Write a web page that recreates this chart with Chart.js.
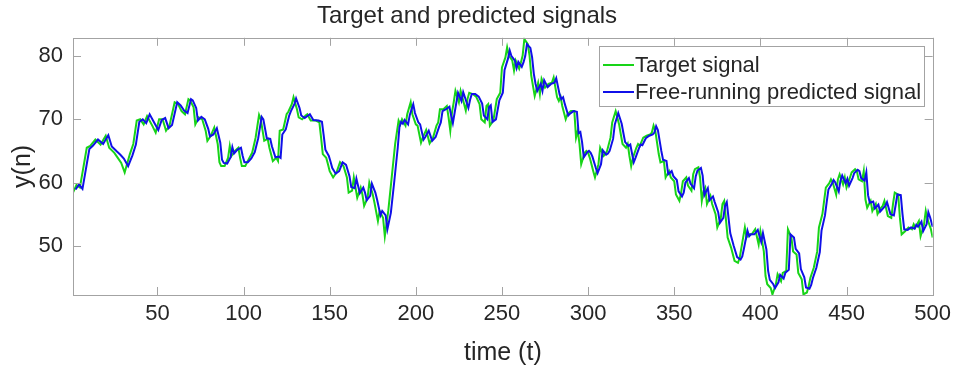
<!DOCTYPE html>
<html>
<head>
<meta charset="utf-8">
<title>Target and predicted signals</title>
<script src="https://cdn.jsdelivr.net/npm/chart.js@4.4.1/dist/chart.umd.min.js"></script>
<style>
  html, body { margin: 0; padding: 0; background: #fff; }
</style>
</head>
<body>
<canvas id="signals" width="957" height="372"></canvas>
<script>
// time steps and values of the target signal
const tTarget = [1, 3, 5, 9, 11, 14, 17, 20, 22, 25, 27, 29, 31, 34, 36, 38, 40, 42, 44, 47, 49, 51, 53, 55, 57, 60, 62, 64, 66, 68, 69, 71, 72, 74, 76, 78, 79, 81, 83, 85, 86, 87, 89, 91, 92, 93, 95, 97, 98, 99,
  101, 103, 105, 107, 109, 110, 112, 114, 115, 117, 119, 120, 121, 123, 125, 126, 128, 129, 131, 132, 134, 136, 137, 139, 142, 144, 145, 146, 148, 149, 150, 152, 154, 156, 158, 160, 161, 163, 164, 166, 168, 169, 170, 172, 173, 175, 176, 178, 179, 181, 182, 184, 186, 188, 190, 191, 192, 194, 195, 197, 198,
  200, 201, 203, 204, 206, 208, 210, 212, 213, 214, 216, 218, 219, 220, 221, 222, 223, 225, 226, 227, 229, 230, 231, 233, 235, 237, 238, 240, 241, 242, 243, 245, 247, 249, 250, 252, 253, 254, 256, 257, 258, 260, 261, 262, 263, 265, 266, 267, 268, 269, 271, 272, 273, 275, 277, 279, 280, 282, 283, 284, 285, 287, 288, 290, 292, 293, 294, 295, 296, 298, 299,
  300, 301, 303, 304, 306, 307, 309, 310, 311, 313, 314, 316, 318, 319, 320, 322, 323, 324, 325, 326, 328, 329, 330, 332, 334, 336, 337, 338, 339, 341, 342, 344, 345, 347, 348, 350, 351, 353, 354, 355, 357, 358, 360, 361, 362, 364, 365, 366, 367, 368, 369, 371, 372, 374, 375, 377, 378, 379, 381, 383, 385, 387, 388, 389, 391, 392, 393, 395, 397, 399,
  400, 402, 403, 404, 406, 407, 409, 410, 412, 413, 415, 416, 418, 419, 421, 422, 424, 425, 427, 428, 429, 431, 433, 434, 436, 437, 438, 440, 441, 442, 444, 445, 446, 448, 449, 450, 452, 453, 455, 456, 457, 459, 460, 461, 462, 464, 465, 467, 468, 470, 471, 472, 474, 476, 477, 478, 480, 481, 482, 484, 486, 488, 489, 490, 492, 493, 495, 496, 497, 499, 500];
const yTarget = [58.4, 59.6, 59.2, 65.5, 65.8, 66.8, 66.0, 67.4, 65.5, 64.7, 63.9, 63.1, 61.6, 64.5, 66.1, 69.8, 70.0, 69.2, 70.5, 69.0, 67.9, 70.0, 70.0, 68.2, 69.0, 72.7, 72.4, 71.3, 70.8, 73.2, 73.0, 71.9, 69.2, 70.3, 70.0, 68.2, 66.6, 67.4, 68.7, 66.1, 63.2, 62.6, 62.6, 63.9, 65.8, 64.2, 65.0, 65.5, 63.9, 62.6,
  62.6, 63.7, 64.7, 67.1, 70.7, 70.0, 66.6, 66.9, 65.5, 63.4, 63.9, 63.4, 68.2, 68.4, 70.8, 71.2, 72.4, 73.5, 71.6, 70.3, 70.0, 70.6, 70.8, 69.8, 69.8, 69.5, 67.1, 64.5, 63.9, 62.9, 61.8, 60.8, 61.6, 63.2, 62.6, 60.8, 58.4, 58.7, 60.8, 57.6, 59.2, 58.1, 56.3, 57.6, 60.0, 58.1, 56.8, 53.9, 55.5, 54.4, 51.5, 55.5, 60.8, 66.1, 69.8, 69.2, 70.0, 69.0, 70.8, 72.7, 70.8,
  69.2, 69.0, 66.3, 67.1, 68.3, 66.2, 67.1, 69.0, 69.5, 71.6, 71.6, 72.1, 70.3, 68.2, 71.1, 72.7, 74.5, 72.7, 74.5, 73.5, 71.4, 73.2, 74.2, 74.0, 73.6, 72.4, 70.0, 69.5, 72.1, 72.4, 69.0, 69.8, 73.2, 74.2, 78.2, 79.8, 81.4, 80.1, 79.3, 77.7, 79.3, 78.0, 79.0, 80.1, 82.7, 81.9, 80.1, 76.9, 75.3, 73.7, 75.8, 74.0, 76.4, 75.0, 75.6, 75.8, 76.6, 73.5, 72.9, 73.6, 72.1, 70.0, 70.8, 71.3, 71.3, 67.1, 68.2, 66.1, 62.9, 64.7, 65.0,
  64.7, 63.9, 61.8, 60.8, 62.9, 65.5, 64.2, 64.5, 65.0, 67.1, 69.5, 71.3, 69.2, 67.6, 66.1, 65.5, 66.1, 64.2, 62.6, 63.9, 65.5, 66.1, 65.8, 67.1, 67.4, 67.6, 67.9, 69.0, 68.2, 64.5, 63.2, 63.4, 60.8, 61.8, 60.8, 60.2, 58.1, 57.1, 58.4, 60.2, 60.8, 59.5, 58.7, 61.3, 62.1, 62.4, 60.8, 57.1, 58.7, 59.2, 56.6, 57.9, 56.6, 55.0, 52.9, 54.3, 56.6, 57.1, 51.3, 49.7, 47.6, 47.3, 48.1, 49.7, 52.9, 51.3, 51.8, 51.8, 52.6, 50.2,
  52.3, 49.1, 45.2, 43.9, 43.3, 42.3, 43.9, 45.5, 44.4, 45.7, 46.0, 52.6, 51.3, 49.1, 48.6, 45.7, 44.7, 42.3, 42.6, 43.6, 44.9, 46.5, 49.1, 52.9, 55.0, 57.1, 59.2, 59.9, 60.5, 60.0, 58.1, 60.5, 61.3, 59.7, 60.8, 59.2, 60.8, 61.6, 62.1, 61.8, 60.5, 60.2, 61.8, 57.3, 56.0, 57.1, 55.5, 56.6, 55.0, 56.0, 56.3, 57.1, 54.7, 54.4, 56.6, 58.4, 58.1, 54.4, 51.8, 52.3, 52.9, 52.6, 53.4, 52.9, 53.9, 51.5, 53.4, 55.5, 54.2, 52.6, 51.3];

// time steps and values of the free-running prediction
const tPredicted = [2.5, 4.5, 6.5, 10.5, 12.5, 15.5, 18.5, 21.5, 23.5, 26.5, 28.5, 30.5, 33, 35.5, 37.5, 39.5, 41.5, 43.5, 45.5, 48.5, 50.5, 52.5, 54.5, 56.5, 58.5, 61.5, 63.5, 65.5, 67.5, 69.5, 70.5, 72.5, 73.5, 75.5, 77.5, 79.5, 80.5, 82.5, 84.5, 86.5, 87.5, 88.5, 90.5, 92.5, 93.5, 94.5, 96.5, 98.5, 99.5,
  100.5, 102.5, 104.5, 106.5, 108.5, 110.5, 111.5, 113.5, 115.5, 116.5, 118.5, 120.5, 121.5, 122.5, 124.5, 126.5, 127.5, 129.5, 130.5, 132.5, 133.5, 135.5, 137.5, 138.5, 140.5, 143.5, 145.5, 146.5, 147.5, 149.5, 150.5, 151.5, 153.5, 155.5, 157.5, 159.5, 161.5, 162.5, 164.5, 165.5, 167.5, 169.5, 170.5, 171.5, 173.5, 174.5, 176.5, 177.5, 179.5, 180.5, 182.5, 183.5, 185.5, 187.5, 189.5, 190.5, 191.5, 192.5, 193.5, 195.5, 196.5, 198.5, 199.5,
  201.5, 202.5, 204.5, 205.5, 207.5, 209.5, 211.5, 213.5, 214.5, 215.5, 217.5, 219.5, 220.5, 221.5, 222.5, 223.5, 224.5, 226.5, 227.5, 228.5, 230.5, 231.5, 232.5, 234.5, 236.5, 238.5, 239.5, 241.5, 242.5, 243.5, 244.5, 246.5, 248.5, 250.5, 251.5, 253.5, 254.5, 255.5, 257.5, 258.5, 259.5, 261.5, 262.5, 263.5, 264.5, 266.5, 267.5, 268.5, 269.5, 270.5, 272.5, 273.5, 274.5, 276.5, 278.5, 280.5, 281.5, 283.5, 284.5, 285.5, 286.5, 288.5, 289.5, 291.5, 293.5, 294.5, 295.5, 296.5, 297.5, 299.5,
  300.5, 301.5, 302.5, 304.5, 305.5, 307.5, 308.5, 310.5, 311.5, 312.5, 314.5, 315.5, 317.5, 319.5, 320.5, 321.5, 323.5, 324.5, 325.5, 326.5, 327.5, 329.5, 330.5, 331.5, 333.5, 335.5, 337.5, 338.5, 339.5, 340.5, 342.5, 343.5, 345.5, 346.5, 348.5, 349.5, 351.5, 352.5, 354.5, 355.5, 356.5, 358.5, 359.5, 361.5, 362.5, 363.5, 365.5, 366.5, 367.5, 368.5, 369.5, 370.5, 372.5, 373.5, 375.5, 376.5, 378.5, 379.5, 380.5, 382.5, 384.5, 386.5, 388.5, 389.5, 390.5, 392.5, 393.5, 394.5, 396.5, 398.5,
  400.5, 401.5, 403.5, 404.5, 405.5, 407.5, 408.5, 410.5, 411.5, 413.5, 414.5, 416.5, 417.5, 419.5, 420.5, 422.5, 423.5, 425.5, 426.5, 428.5, 429.5, 430.5, 432.5, 434.5, 435.5, 437.5, 438.5, 439.5, 441.5, 442.5, 443.5, 445.5, 446.5, 447.5, 449.5, 450.5, 451.5, 453.5, 454.5, 456.5, 457.5, 458.5, 460.5, 461.5, 462.5, 463.5, 465.5, 466.5, 468.5, 469.5, 471.5, 472.5, 473.5, 475.5, 477.5, 478.5, 479.5, 481.5, 482.5, 483.5, 485.5, 487.5, 489.5, 490.5, 491.5, 493.5, 494.5, 496.5, 497.5, 498.5, 500];
const yPredicted = [58.9, 59.7, 59.0, 65.3, 65.8, 66.8, 66.1, 67.5, 65.7, 64.9, 64.4, 63.8, 62.6, 64.3, 66.0, 69.6, 70.0, 69.4, 70.8, 69.3, 68.3, 69.9, 70.2, 68.6, 69.1, 72.7, 72.2, 71.4, 71.0, 73.2, 73.0, 71.8, 69.8, 70.4, 70.0, 68.5, 67.3, 67.6, 68.6, 66.3, 63.6, 63.1, 63.0, 64.0, 65.6, 64.6, 65.2, 65.5, 64.2,
  63.2, 63.2, 63.8, 64.8, 67.0, 70.4, 70.0, 67.0, 66.9, 65.7, 64.0, 64.1, 63.9, 67.6, 68.4, 70.6, 71.3, 72.4, 73.3, 71.8, 70.6, 70.2, 70.6, 70.8, 69.9, 69.8, 69.6, 67.5, 65.2, 64.2, 63.3, 62.3, 61.4, 61.8, 63.2, 62.8, 61.0, 59.3, 59.1, 60.6, 58.3, 59.2, 58.4, 57.2, 57.9, 59.8, 58.4, 57.3, 54.8, 55.5, 54.8, 52.6, 55.2, 60.2, 65.5, 68.8, 69.6, 69.3, 69.9, 69.2, 70.7, 72.4, 71.0,
  69.5, 69.2, 66.8, 67.2, 68.2, 66.6, 67.2, 68.8, 69.5, 71.3, 71.6, 72.0, 70.6, 69.4, 71.0, 72.6, 74.2, 72.9, 74.3, 73.5, 71.8, 73.1, 74.0, 74.0, 73.6, 72.5, 70.6, 70.0, 71.9, 72.2, 69.6, 70.0, 73.0, 74.2, 77.8, 79.6, 80.9, 80.0, 79.3, 78.1, 79.1, 78.3, 79.0, 80.0, 81.9, 81.3, 79.8, 77.2, 75.6, 74.5, 75.6, 74.5, 76.2, 75.1, 75.6, 75.8, 76.5, 73.9, 73.2, 73.5, 72.4, 70.6, 70.9, 71.3, 71.2, 67.8, 68.0, 66.4, 64.0, 64.8,
  65.0, 64.7, 64.1, 62.3, 61.5, 62.9, 65.1, 64.4, 64.6, 65.0, 66.9, 69.2, 71.0, 69.3, 67.8, 66.4, 65.8, 66.0, 64.6, 63.2, 63.9, 65.4, 66.0, 65.9, 67.0, 67.4, 67.6, 67.9, 68.9, 68.3, 65.0, 63.6, 63.4, 61.3, 61.8, 61.0, 60.4, 58.6, 57.8, 58.4, 60.0, 60.7, 59.8, 59.1, 61.0, 61.9, 62.3, 61.1, 58.0, 58.6, 59.1, 57.2, 57.8, 56.9, 55.3, 53.6, 54.4, 56.3, 56.9, 52.0, 50.0, 48.2, 47.8, 48.3, 49.6, 52.4, 51.5, 51.8, 51.8, 52.5,
  50.6, 52.0, 49.4, 46.0, 44.6, 43.9, 43.3, 44.2, 45.4, 44.8, 45.7, 46.2, 51.8, 51.3, 49.5, 48.8, 46.3, 45.0, 43.4, 43.2, 43.8, 44.9, 46.5, 49.0, 52.4, 54.8, 56.9, 58.9, 59.8, 60.4, 60.0, 58.6, 60.3, 61.1, 59.9, 60.6, 59.5, 60.7, 61.5, 62.0, 61.8, 60.7, 60.3, 61.6, 58.0, 56.8, 57.0, 55.9, 56.5, 55.4, 56.0, 56.3, 56.9, 55.0, 54.8, 56.4, 58.1, 58.0, 55.0, 52.6, 52.5, 52.9, 52.7, 53.3, 53.0, 53.8, 52.3, 53.4, 55.3, 54.5, 53.0];

const xTicks = [50, 100, 150, 200, 250, 300, 350, 400, 450, 500];
const yTicks = [50, 60, 70, 80];
const xRange = [1, 500];
const yRange = [42.2, 82.9];

const frameColor = '#a3a3a3';
const textColor = '#262626';
const tickLen = 8;

Chart.defaults.font.family = '"Liberation Sans", Arial, Helvetica, sans-serif';
Chart.defaults.color = textColor;

const toPoints = (ts, ys) => ts.map((t, i) => ({ x: t, y: ys[i] }));

// box around the axes with inward tick marks on all four sides
const axesBox = {
    id: 'axesBox',
    afterDatasetsDraw(chart) {
        const { ctx, chartArea: a, scales: { x, y } } = chart;
        ctx.save();
        ctx.strokeStyle = frameColor;
        ctx.lineWidth = 1;
        ctx.beginPath();
        x.ticks.forEach(t => {
            const px = Math.round(x.getPixelForValue(t.value)) + 0.5;
            ctx.moveTo(px, a.bottom);
            ctx.lineTo(px, a.bottom - tickLen);
            ctx.moveTo(px, a.top);
            ctx.lineTo(px, a.top + tickLen);
        });
        y.ticks.forEach(t => {
            const py = Math.round(y.getPixelForValue(t.value)) + 0.5;
            ctx.moveTo(a.left, py);
            ctx.lineTo(a.left + tickLen, py);
            ctx.moveTo(a.right, py);
            ctx.lineTo(a.right - tickLen, py);
        });
        ctx.stroke();
        ctx.strokeRect(Math.round(a.left) + 0.5, Math.round(a.top) + 0.5,
            Math.round(a.right - a.left), Math.round(a.bottom - a.top));
        ctx.restore();
    }
};

// boxed legend in the top right corner of the axes
const boxLegend = {
    id: 'boxLegend',
    afterDraw(chart) {
        const { ctx } = chart;
        const box = { x: 599.5, y: 46.5, w: 325, h: 60 };
        const rows = [65, 92];
        ctx.save();
        ctx.fillStyle = '#fff';
        ctx.fillRect(box.x, box.y, box.w, box.h);
        ctx.strokeStyle = frameColor;
        ctx.lineWidth = 1;
        ctx.strokeRect(box.x, box.y, box.w, box.h);
        ctx.font = '22px "Liberation Sans", Arial, sans-serif';
        ctx.textBaseline = 'middle';
        chart.data.datasets.forEach((ds, i) => {
            const yRow = rows[i];
            ctx.strokeStyle = ds.borderColor;
            ctx.lineWidth = 2;
            ctx.beginPath();
            ctx.moveTo(603, yRow);
            ctx.lineTo(634, yRow);
            ctx.stroke();
            ctx.fillStyle = textColor;
            ctx.fillText(ds.label, 635, yRow + 1);
        });
        ctx.restore();
    }
};

new Chart(document.getElementById('signals'), {
    type: 'line',
    data: {
        datasets: [{
            label: 'Target signal',
            data: toPoints(tTarget, yTarget),
            borderColor: 'rgb(24, 212, 24)',
            borderWidth: 2,
            pointRadius: 0,
            tension: 0,
            order: 1
        }, {
            label: 'Free-running predicted signal',
            data: toPoints(tPredicted, yPredicted),
            borderColor: 'rgb(16, 16, 232)',
            borderWidth: 2,
            pointRadius: 0,
            tension: 0,
            order: 0
        }]
    },
    options: {
        responsive: false,
        animation: false,
        events: [],
        layout: { padding: { top: 0, right: 23, bottom: 0, left: 0 } },
        plugins: {
            legend: { display: false },
            tooltip: { enabled: false },
            title: {
                display: true,
                text: 'Target and predicted signals',
                color: textColor,
                font: { size: 24, weight: 'normal' },
                padding: { top: 2, bottom: 7 }
            }
        },
        scales: {
            x: {
                type: 'linear',
                min: xRange[0],
                max: xRange[1],
                grid: { display: false, drawTicks: false },
                border: { display: false },
                afterBuildTicks: scale => { scale.ticks = xTicks.map(v => ({ value: v })); },
                afterFit: scale => { scale.height = 77; },
                ticks: { font: { size: 22 }, padding: 6, maxRotation: 0, color: textColor },
                title: {
                    display: true,
                    text: 'time (t)',
                    color: textColor,
                    font: { size: 25 },
                    padding: { top: 0, bottom: 4 }
                }
            },
            y: {
                type: 'linear',
                min: yRange[0],
                max: yRange[1],
                grid: { display: false, drawTicks: false },
                border: { display: false },
                afterBuildTicks: scale => { scale.ticks = yTicks.map(v => ({ value: v })); },
                afterFit: scale => { scale.width = 73; },
                ticks: { font: { size: 22 }, padding: 10, color: textColor },
                title: {
                    display: true,
                    text: 'y(n)',
                    color: textColor,
                    font: { size: 25 },
                    padding: { top: 8, bottom: 0 }
                }
            }
        }
    },
    plugins: [axesBox, boxLegend]
});
</script>
</body>
</html>
